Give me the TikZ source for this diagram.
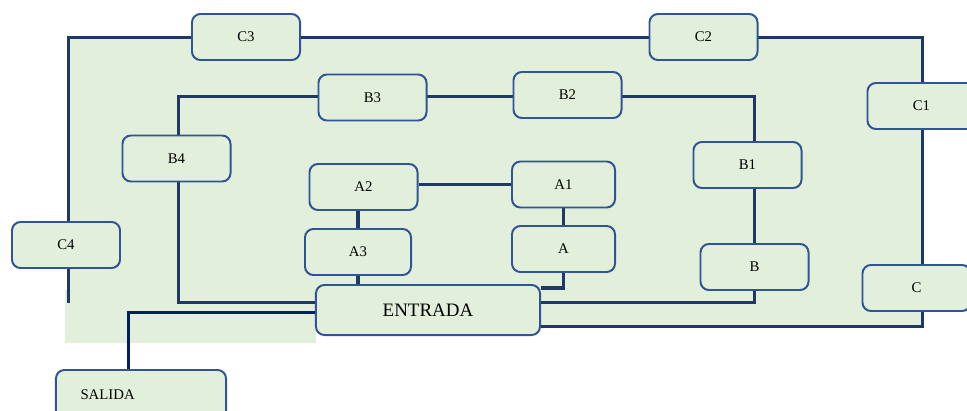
\documentclass[tikz,border=0pt]{standalone}
\usepackage{fontspec}
\setmainfont{Liberation Serif}
\usetikzlibrary{backgrounds,calc}
\definecolor{boxfill}{HTML}{E2EFDA}
\definecolor{boxline}{HTML}{2F5597}
\definecolor{linkline}{HTML}{1F3864}
\definecolor{exitline}{HTML}{002060}
\begin{document}
\begin{tikzpicture}[x=0.025cm,y=-0.025cm,
  box/.style={draw=boxline, line width=1.4pt, fill=boxfill, rounded corners=6pt,
    minimum width=2.7cm, minimum height=1.15cm, inner sep=0pt,
    font=\fontsize{10.5}{12}\selectfont},
  bigbox/.style={box, minimum width=5.6cm, minimum height=1.25cm,
    font=\fontsize{13.5}{15}\selectfont},
  link/.style={draw=linkline, line width=2.3pt},
  exitlink/.style={draw=exitline, line width=2.7pt}]
  \clip (0,0) rectangle (967,410);

  % outer ring
  \node[box] (C3) at (246,37) {C3};
  \node[box] (C2) at (703.5,37) {C2};
  \node[box] (C1) at (921.5,106) {C1};
  \node[box] (C) at (916.5,288) {C};
  \node[box] (C4) at (66,245) {C4};

  % middle ring
  \node[box] (B3) at (372.5,97.5) {B3};
  \node[box] (B2) at (567.5,95) {B2};
  \node[box] (B4) at (176.5,158.5) {B4};
  \node[box] (B1) at (747.5,165) {B1};
  \node[box] (B) at (754.5,267) {B};

  % inner ring
  \node[box] (A2) at (363.5,187) {A2};
  \node[box, minimum width=2.575cm] (A1) at (563.5,184.5) {A1};
  \node[box, minimum width=2.65cm] (A3) at (358,252) {A3};
  \node[box, minimum width=2.575cm] (A) at (563.5,249) {A};

  \node[bigbox] (ENTRADA) at (428,310) {ENTRADA};
  \node[box, minimum width=4.25cm, minimum height=1.25cm, align=left,
    text width=86pt, inner xsep=17pt] (SALIDA) at (141,395) {SALIDA};

  \coordinate (cSE) at (922.5,326.5);
  \coordinate (cNE) at (922.5,37.5);
  \coordinate (cNW) at (68.5,37.5);
  \coordinate (cSW) at (68.5,303);
  \coordinate (bSE) at (754.5,302.5);
  \coordinate (bNE) at (754.5,96.5);
  \coordinate (bNW) at (178.5,96.5);
  \coordinate (bSW) at (178.5,302.5);
  \coordinate (sal) at (128.5,312.5);

  \begin{pgfonlayer}{background}
    \fill[boxfill] (68,37) rectangle (922,327);
    \fill[boxfill] (65,290) rectangle (316,343);

    \draw[link] (ENTRADA.east |- cSE) -- (cSE) -- (cNE) -- (cNW) -- (cSW);
    \draw[link] (ENTRADA.east |- bSE) -- (bSE) -- (bNE) -- (bNW) -- (bSW)
      -- (ENTRADA.west |- bSW);

    \draw[link] (A1.west) -- (A1.west -| A2.east);
    \draw[link] (A2.south -| A3) -- (A3.north);
    \draw[link] (A3.south) -- (A3.south |- ENTRADA.north);
    \draw[link] (A1) -- (A);
    \draw[link] (A.south) |- ($(ENTRADA.north east)+(0,4)$);

    \draw[exitlink] (ENTRADA.west |- sal) -- (sal) -- (sal |- SALIDA.north);
  \end{pgfonlayer}
\end{tikzpicture}
\end{document}
